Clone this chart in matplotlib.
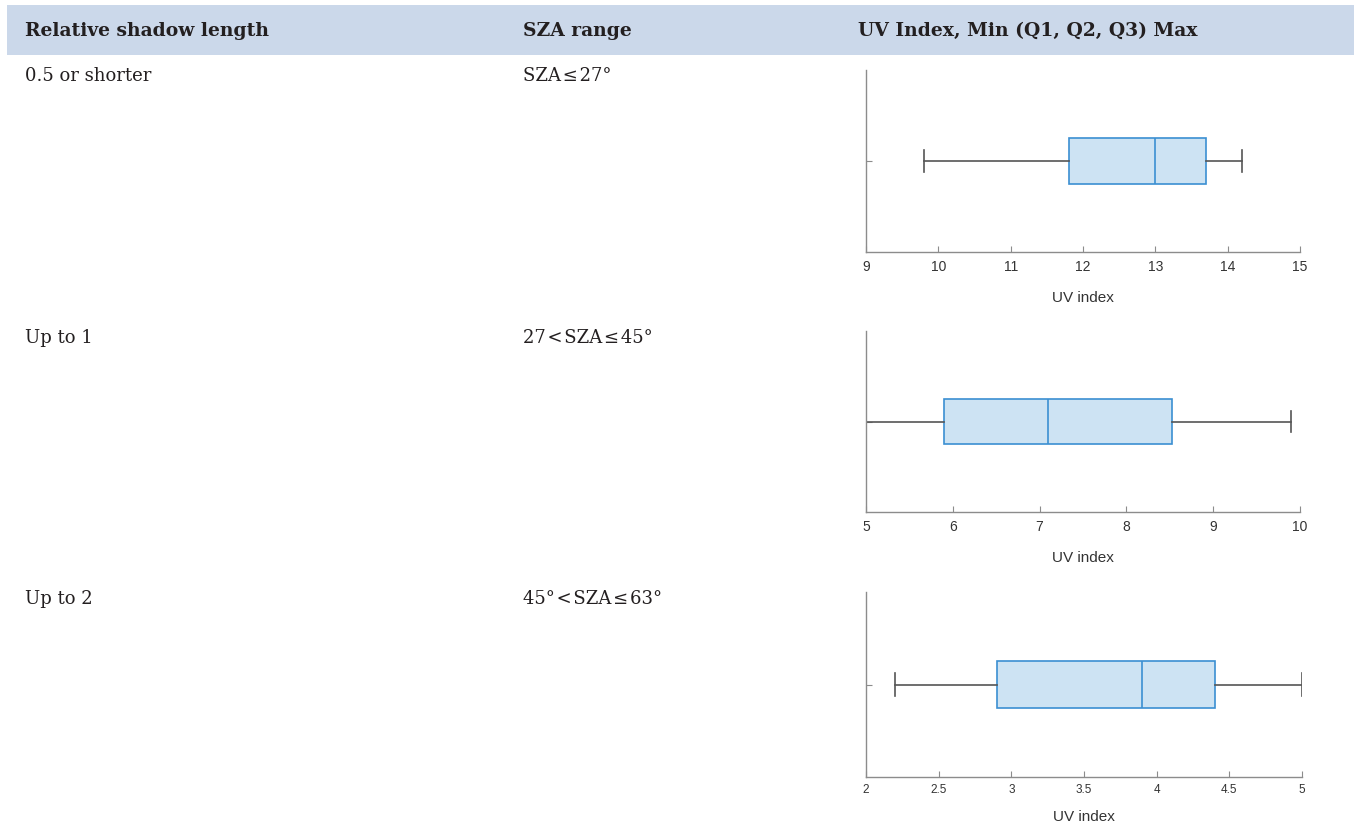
import matplotlib
matplotlib.use('Agg')
import matplotlib.pyplot as plt
import matplotlib.patches as mpatches

# table text
header = ["Relative shadow length", "SZA range", "UV Index, Min (Q1, Q2, Q3) Max"]
shadow_lengths = ["0.5 or shorter", "Up to 1", "Up to 2"]
sza_ranges = ["SZA\u200a\u2264\u200a27\u00b0", "27\u200a<\u200aSZA\u200a\u2264\u200a45\u00b0",
              "45\u00b0\u200a<\u200aSZA\u200a\u2264\u200a63\u00b0"]

# box plot stats
uv_min = [9.8, 5.0, 2.2]
uv_q1 = [11.8, 5.9, 2.9]
uv_med = [13.0, 7.1, 3.9]
uv_q3 = [13.7, 8.53, 4.4]
uv_max = [14.2, 9.9, 5.0]
x_limits = [(9, 15), (5, 10), (2, 5)]
x_ticks = [[9, 10, 11, 12, 13, 14, 15], [5, 6, 7, 8, 9, 10],
           [2, 2.5, 3, 3.5, 4, 4.5, 5]]
x_ticklabels = [["9", "10", "11", "12", "13", "14", "15"],
                ["5", "6", "7", "8", "9", "10"],
                ["2", "2.5", "3", "3.5", "4", "4.5", "5"]]

W, H = 1354, 833
fig = plt.figure(figsize=(W / 100, H / 100), dpi=100)
serif = ['DejaVu Serif']
sans = ['Liberation Sans', 'DejaVu Sans']
text_col = '#231f20'

# header band
fig.patches.append(mpatches.Rectangle((7 / W, 1 - 55 / H), 1 - 7 / W, 50 / H,
                                      transform=fig.transFigure,
                                      facecolor='#cbd8ea', edgecolor='none', zorder=0))
col_x = [25, 523, 858]
for x, t in zip(col_x, header):
    fig.text(x / W, 1 - 31 / H, t, family=serif, weight='bold', fontsize=13.5,
             color=text_col, va='center', ha='left')

row_y = [76, 338, 599]
for y, s, z in zip(row_y, shadow_lengths, sza_ranges):
    fig.text(25 / W, 1 - y / H, s, family=serif, fontsize=13, color=text_col,
             va='center', ha='left')
    fig.text(523 / W, 1 - y / H, z, family=serif, fontsize=13, color=text_col,
             va='center', ha='left')

# axes boxes: (left, top, right, bottom) in pixels
ax_px = [(866, 70, 1300, 252), (866, 331, 1300, 512), (866, 592, 1302, 777)]
tick_fs = [10, 10, 8.5]
tick_pad = [6, 6, 5]
label_pad = [12, 12, 10]
axis_col = '#8c8c8c'

for i, (l, t, r, b) in enumerate(ax_px):
    ax = fig.add_axes([l / W, 1 - b / H, (r - l) / W, (b - t) / H])
    stats = [dict(whislo=uv_min[i], q1=uv_q1[i], med=uv_med[i], q3=uv_q3[i],
                  whishi=uv_max[i], fliers=[])]
    ax.bxp(stats, positions=[0.5], widths=0.25, capwidths=0.12, vert=False,
           patch_artist=True, showfliers=False,
           boxprops=dict(facecolor='#cde3f3', edgecolor='#3b8fd2', linewidth=1.2),
           medianprops=dict(color='#3b8fd2', linewidth=1.2),
           whiskerprops=dict(color='#555555', linewidth=1.2),
           capprops=dict(color='#555555', linewidth=1.2))
    ax.set_xlim(*x_limits[i])
    ax.set_ylim(0, 1)
    ax.set_xticks(x_ticks[i])
    ax.set_xticklabels(x_ticklabels[i])
    ax.set_yticks([0.5])
    ax.set_yticklabels([])
    for side in ['top', 'right']:
        ax.spines[side].set_visible(False)
    for side in ['left', 'bottom']:
        ax.spines[side].set_color(axis_col)
        ax.spines[side].set_linewidth(1.0)
    ax.tick_params(direction='in', length=4, color=axis_col, width=0.8,
                   labelsize=tick_fs[i], labelcolor='#333333', pad=tick_pad[i])
    for lab in ax.get_xticklabels():
        lab.set_family(sans)
    ax.set_xlabel("UV index", family=sans, fontsize=11, color='#333333',
                  labelpad=label_pad[i])
    ax.set_facecolor('none')

fig.savefig("out.png", dpi=100)
